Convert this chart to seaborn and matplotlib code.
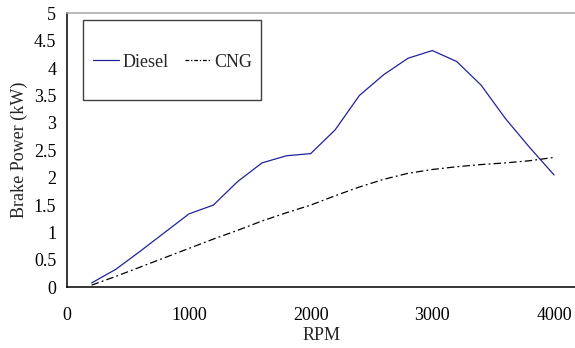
import matplotlib
matplotlib.use("Agg")
import matplotlib.pyplot as plt
import seaborn as sns
import pandas as pd
from matplotlib.patches import Rectangle
from matplotlib.lines import Line2D

rpm = [200, 400, 600, 800, 1000, 1200, 1400, 1600, 1800, 2000,
       2200, 2400, 2600, 2800, 3000, 3200, 3400, 3600, 3800, 4000]
diesel = [0.08, 0.33, 0.66, 1.0, 1.34, 1.5, 1.93, 2.27, 2.4, 2.44,
          2.87, 3.5, 3.88, 4.18, 4.32, 4.12, 3.69, 3.08, 2.55, 2.05]
cng = [0.04, 0.2, 0.37, 0.54, 0.71, 0.88, 1.04, 1.21, 1.36, 1.5,
       1.67, 1.83, 1.97, 2.08, 2.15, 2.2, 2.24, 2.27, 2.31, 2.37]
series_names = ["Diesel", "CNG"]

df = pd.concat([
    pd.DataFrame({"RPM": rpm, "Power": diesel, "Fuel": series_names[0]}),
    pd.DataFrame({"RPM": rpm, "Power": cng, "Fuel": series_names[1]}),
])

sns.set_style("white")
plt.rcParams["font.family"] = ["Liberation Serif", "DejaVu Serif"]
FS = 13
plt.rcParams["font.size"] = FS

fig = plt.figure(figsize=(5.75, 3.48), dpi=100)
ax = fig.add_axes([67.3 / 575, 1 - 287.3 / 348, (575 - 67.3) / 575, 274 / 348])

sns.lineplot(data=df, x="RPM", y="Power", hue="Fuel", style="Fuel",
             palette={"Diesel": "#22229a", "CNG": "#000000"},
             dashes={"Diesel": "", "CNG": (6, 2.5, 1.5, 2.5)},
             ax=ax, legend=False, linewidth=0.9, sort=False)

ax.set_xlim(0, 4172)
ax.set_ylim(0, 5)
ax.set_xticks([0, 1000, 2000, 3000, 4000])
ax.set_yticks([0, 0.5, 1, 1.5, 2, 2.5, 3, 3.5, 4, 4.5, 5])
ax.set_yticklabels(["0", "0.5", "1", "1.5", "2", "2.5", "3", "3.5", "4", "4.5", "5"])
ax.tick_params(axis="both", direction="out", length=5, width=1, color="black",
               labelsize=FS, labelcolor="black", pad=3)
ax.tick_params(axis="x", pad=9)
ax.set_xlabel("RPM", fontsize=FS, labelpad=2)
ax.set_ylabel("Brake Power (kW)", fontsize=FS, labelpad=4)

for s in ["left", "bottom"]:
    ax.spines[s].set_color("black")
    ax.spines[s].set_linewidth(1.1)
ax.spines["top"].set_color("#a6a6a6")
ax.spines["top"].set_linewidth(1.1)
ax.spines["right"].set_visible(False)

# legend frame
ax.add_patch(Rectangle((0.031, 0.6836), 0.3505, 0.292, transform=ax.transAxes,
                       fill=True, facecolor="white", edgecolor="#404040",
                       linewidth=1.0, zorder=5))
handles = [Line2D([], [], color="#22229a", lw=0.9),
           Line2D([], [], color="black", lw=0.9, dashes=(3, 1.5, 1, 1.5))]
leg = ax.legend(handles, series_names, loc="center left",
                bbox_to_anchor=(0.05, 0.822), ncol=2, frameon=False,
                handlelength=1.45, handletextpad=0.2, columnspacing=0.9,
                fontsize=FS, borderpad=0, borderaxespad=0)
leg.set_zorder(6)

fig.savefig("out.png", dpi=100)
